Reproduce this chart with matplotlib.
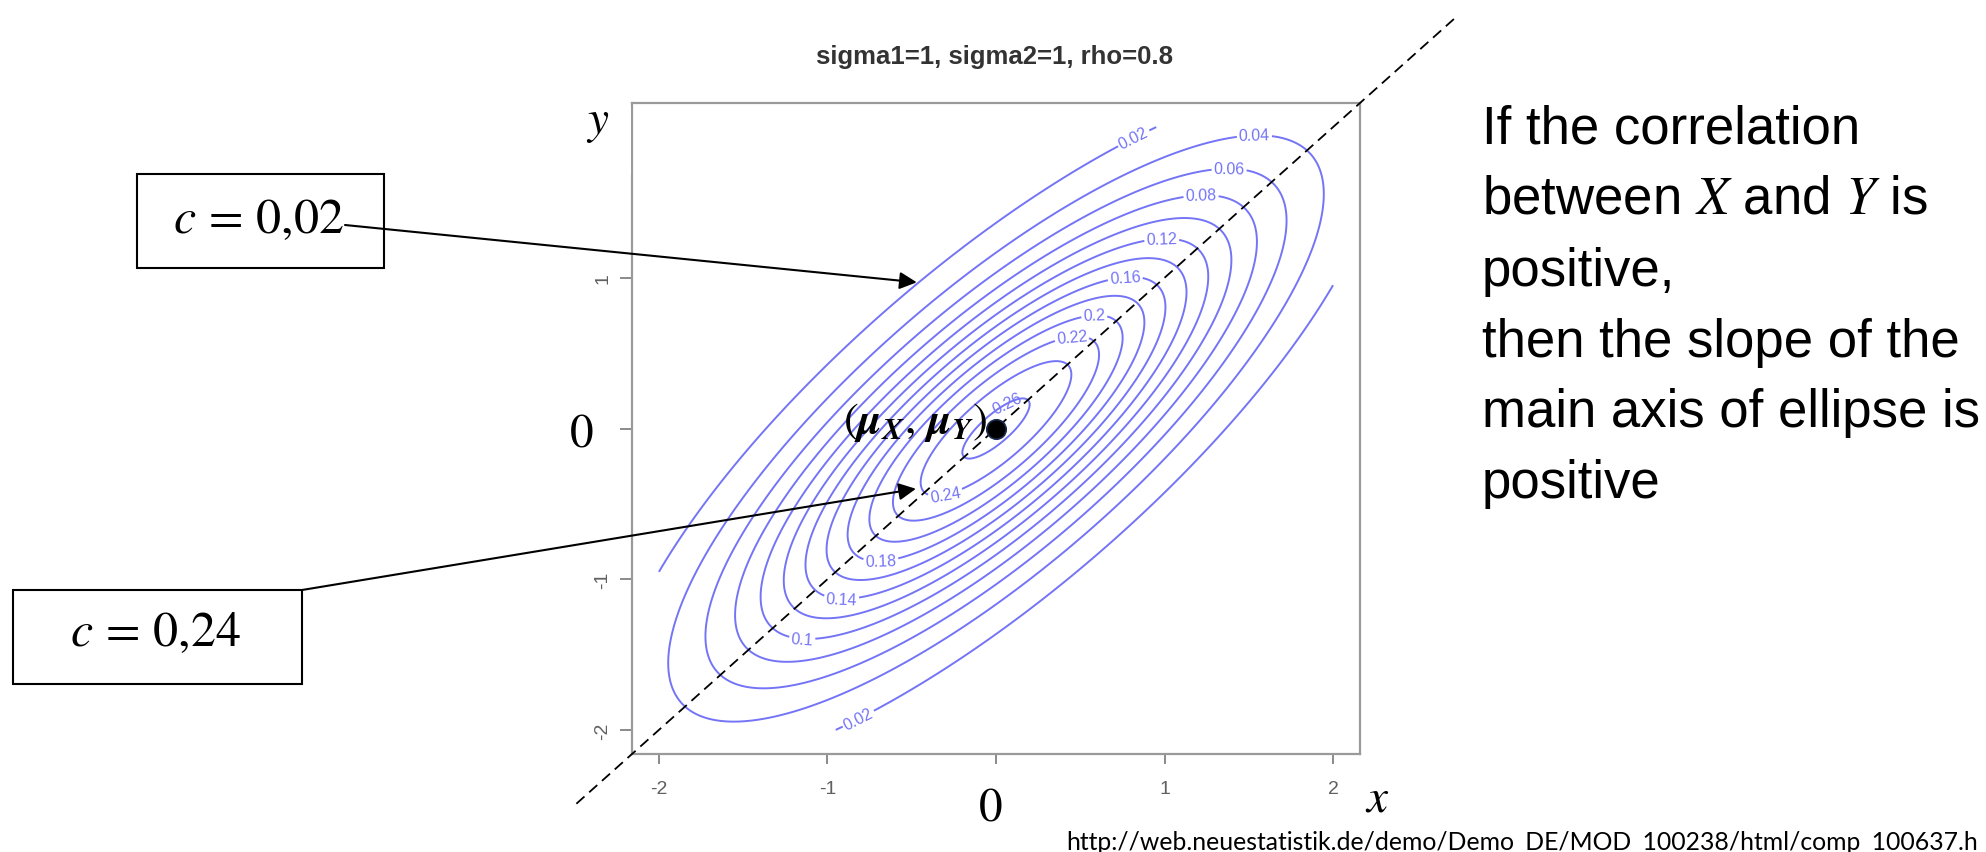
import numpy as np
import matplotlib.pyplot as plt
from matplotlib.patches import Rectangle

plt.rcParams['font.family'] = ['Liberation Sans', 'DejaVu Sans']
plt.rcParams['mathtext.fontset'] = 'stix'

# bivariate normal parameters shown in the panel title
sigma1 = 1.0
sigma2 = 1.0
rho = 0.8
mu_x = 0.0
mu_y = 0.0

# density levels of the contour lines
levels = [0.02, 0.04, 0.06, 0.08, 0.10, 0.12, 0.14, 0.16, 0.18, 0.20, 0.22, 0.24, 0.26]

# where each contour label sits (level, x, y)
label_levels = [0.02, 0.02, 0.04, 0.06, 0.08, 0.10, 0.12, 0.14, 0.16, 0.18, 0.20, 0.22, 0.24, 0.26]
label_x = [0.82, -0.82, 1.53, 1.38, 1.22, -1.15, 0.98, -0.91, 0.77, -0.68, 0.59, 0.46, -0.30, 0.08]
label_y = [1.91, -1.93, 1.91, 1.68, 1.50, -1.38, 1.21, -1.10, 0.95, -0.85, 0.71, 0.53, -0.44, 0.14]

ticks = [-2, -1, 0, 1, 2]
x_tick_labels = ['-2', '-1', '', '1', '2']
y_tick_labels = ['-2', '-1', '', '1', '']

# the two highlighted contours and where the arrows point on them
c_outer = 0.02
c_inner = 0.24
outer_point = (-0.47, 0.97)
inner_point = (-0.475, -0.40)

# extent of the dashed main axis (y = x)
axis_from = -2.49
axis_to = 2.73

text_lines = [
    'If the correlation',
    r'between $X$ and $Y$ is',
    'positive,',
    'then the slope of the',
    'main axis of ellipse is',
    'positive',
]
source_url = 'http://web.neuestatistik.de/demo/Demo_DE/MOD_100238/html/comp_100637.h'

W, H = 1986, 853


def fx(px):
    return px / W


def fy(py):
    return 1 - py / H


fig = plt.figure(figsize=(W / 100, H / 100), dpi=100)
fig.patch.set_facecolor('white')

ax = fig.add_axes([fx(632), fy(755), (1360 - 632) / W, (755 - 104) / H])
ax.set_xlim(-2.16, 2.16)
ax.set_ylim(-2.16, 2.16)

# density on the [-2, 2] grid
g = np.linspace(-2, 2, 241)
X, Y = np.meshgrid(g, g)
zx = (X - mu_x) / sigma1
zy = (Y - mu_y) / sigma2
Z = np.exp(-(zx ** 2 - 2 * rho * zx * zy + zy ** 2) / (2 * (1 - rho ** 2)))
Z /= 2 * np.pi * sigma1 * sigma2 * np.sqrt(1 - rho ** 2)

line_col = '#7474f6'
cs = ax.contour(X, Y, Z, levels=levels, colors=line_col, linewidths=1.4)

# snap every label position onto its own contour before labelling
for lv, lx, ly in zip(label_levels, label_x, label_y):
    pts = np.vstack(cs.allsegs[levels.index(lv)])
    px, py = pts[np.argmin((pts[:, 0] - lx) ** 2 + (pts[:, 1] - ly) ** 2)]
    ax.clabel(cs, levels=levels, manual=[(px, py)], inline=(lv != 0.26),
              inline_spacing=2, fmt=lambda v: f'{v:g}', fontsize=11.5,
              colors=line_col)

ax.set_xticks(ticks)
ax.set_xticklabels(x_tick_labels)
ax.set_yticks(ticks)
ax.set_yticklabels(y_tick_labels, rotation=90, va='center')
ax.tick_params(direction='out', width=1.4, color='#8a8a8a',
               labelcolor='#606060', labelsize=14)
ax.tick_params(axis='x', length=7.5, pad=11)
ax.tick_params(axis='y', length=9, pad=6)
for sp in ax.spines.values():
    sp.set_color('#9a9a9a')
    sp.set_linewidth(1.6)

fig.text(fx(994), fy(57), 'sigma1=1, sigma2=1, rho=0.8', fontsize=18.5,
         fontweight='bold', color='#333333', ha='center', va='center')

# main axis of the ellipses
ax.plot([axis_from, axis_to], [axis_from, axis_to], color='black', lw=1.3,
        ls=(0, (6, 3.5)), clip_on=False, zorder=5)
ax.plot(mu_x, mu_y, 'o', ms=14, mfc='black', mec='#1c2c50', mew=1.2,
        clip_on=False, zorder=6)
ax.annotate(r'$(\mathbfit{\mu}_{\mathbfit{X}},\,\mathbfit{\mu}_{\mathbfit{Y}})$',
            xy=(mu_x, mu_y), xytext=(-6, 5), textcoords='offset points',
            ha='right', va='center', fontsize=32)

# boxed level values with arrows to their contours
fig.add_artist(Rectangle((fx(137), fy(269)), (384 - 137) / W, (269 - 175) / H,
                         transform=fig.transFigure, fill=False, ec='black', lw=1.5))
fig.add_artist(Rectangle((fx(13), fy(685)), (302 - 13) / W, (685 - 591) / H,
                         transform=fig.transFigure, fill=False, ec='black', lw=1.5))
fig.text(fx(259), fy(220), r'$c\,=\,0{,}' + f'{c_outer:.2f}'[2:] + '$',
         fontsize=36, ha='center', va='center')
fig.text(fx(156), fy(633), r'$c\,=\,0{,}' + f'{c_inner:.2f}'[2:] + '$',
         fontsize=36, ha='center', va='center')

arrow = dict(arrowstyle='-|>', color='black', lw=1.5, shrinkA=0, shrinkB=0,
             mutation_scale=26)
ax.annotate('', xy=outer_point, xycoords='data',
            xytext=(fx(345), fy(226)), textcoords='figure fraction',
            arrowprops=arrow)
ax.annotate('', xy=inner_point, xycoords='data',
            xytext=(fx(302), fy(591)), textcoords='figure fraction',
            arrowprops=arrow)

# white label field of the y name sits over the top of the axis
fig.add_artist(Rectangle((fx(545), fy(176)), (630.5 - 545) / W, (176 - 107) / H,
                         transform=fig.transFigure, fc='white', ec='none',
                         zorder=3))
fig.text(fx(598), fy(123), r'$y$', fontsize=34, ha='center', va='center',
         zorder=4)
fig.text(fx(1377), fy(800), r'$x$', fontsize=34, ha='center', va='center')
fig.text(fx(582), fy(436), '0', family='STIXGeneral', fontsize=34,
         ha='center', va='center')
fig.text(fx(991), fy(810), '0', family='STIXGeneral', fontsize=34,
         ha='center', va='center')

baselines = [144, 214, 286, 357, 427, 498]
for line, by in zip(text_lines, baselines):
    fig.text(fx(1482), fy(by), line, fontsize=38, ha='left', va='baseline')

fig.text(fx(1066), fy(850), source_url, family='Lato', fontsize=17.8,
         ha='left', va='baseline')

fig.savefig('out.png', dpi=100, facecolor='white')
